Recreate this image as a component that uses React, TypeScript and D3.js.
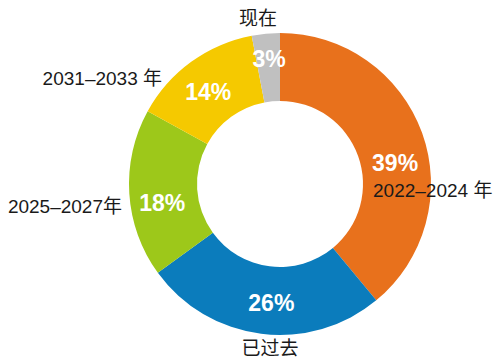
import React from 'react';
import * as d3 from 'd3';

// slices, clockwise from 12 o'clock
const categories = ['2022–2024 年', '已过去', '2025–2027年', '2031–2033 年', '现在'];
const shares = [39, 26, 18, 14, 3];
const colors = ['#E8711C', '#0B7CBC', '#9DC81A', '#F5C900', '#C0C0C0'];

// small nudges for the white % labels (from arc centroid)
const pctNudge = [[5, 27], [6, 11], [-1, 20], [-3, 11], [0, -1]];
// category label anchors relative to the donut centre
const catOffset = [[93, 13], [-10, 171], [-158, 29], [-118, -99], [-22, -159]];
const catAnchor = ['start', 'middle', 'end', 'end', 'middle'];

const W = 500;
const H = 364;
const cx = 280;
const cy = 184;
const outerR = 151;
const innerR = 83;

const App = () => {
  const pie = d3.pie<number>().sort(null).value(d => d);
  const arcs = pie(shares);
  const arc = d3.arc<d3.PieArcDatum<number>>().innerRadius(innerR).outerRadius(outerR);

  return (
    <svg width={W} height={H} style={{ position: 'absolute', left: 0, top: 0, background: '#fff' }}>
      <g transform={`translate(${cx},${cy})`}>
        {arcs.map((a, i) => (
          <path key={i} d={arc(a) || ''} fill={colors[i]} />
        ))}
        {arcs.map((a, i) => {
          const [x, y] = arc.centroid(a);
          return (
            <text
              key={'p' + i}
              x={x + pctNudge[i][0]}
              y={y + pctNudge[i][1]}
              textAnchor="middle"
              fill="#fff"
              fontFamily="'Liberation Sans', Arial, sans-serif"
              fontWeight="bold"
              fontSize={23}
            >
              {shares[i]}%
            </text>
          );
        })}
        {categories.map((c, i) => (
          <text
            key={'c' + i}
            x={catOffset[i][0]}
            y={catOffset[i][1]}
            textAnchor={catAnchor[i] as any}
            fill="#1a1a1a"
            fontFamily="'Liberation Sans', 'Noto Sans CJK SC', sans-serif"
            fontSize={19}
          >
            {c}
          </text>
        ))}
      </g>
    </svg>
  );
};

export default App;
